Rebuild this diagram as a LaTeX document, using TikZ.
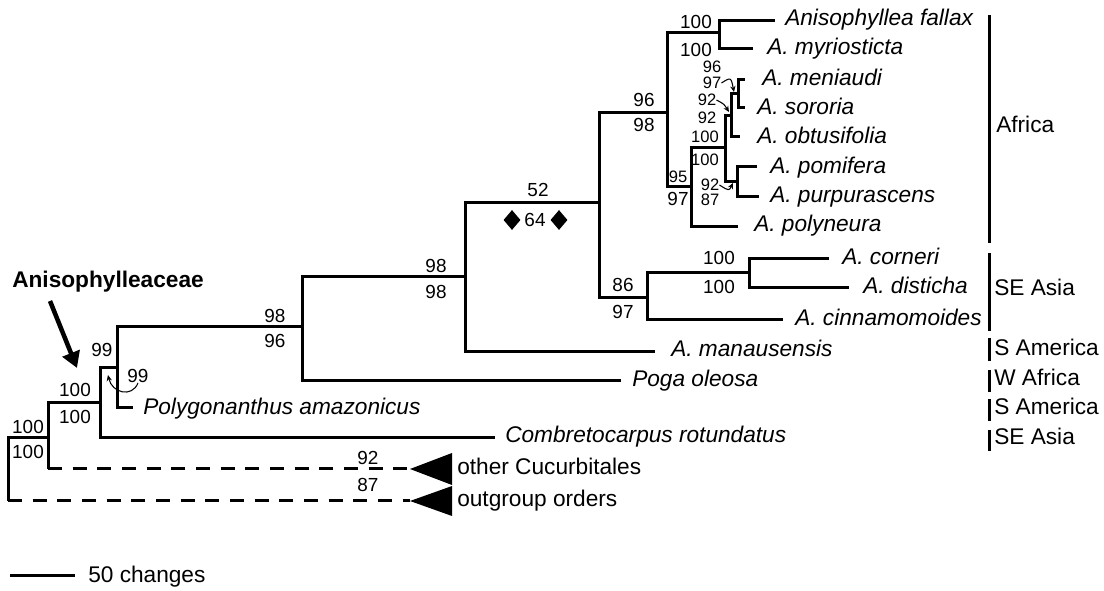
\documentclass[tikz,border=0pt]{standalone}
\usepackage{fontspec}
\setmainfont{Liberation Sans}
\usetikzlibrary{arrows.meta,shapes.geometric}
\begin{document}
\begin{tikzpicture}[x=0.75pt,y=-0.75pt,
  br/.style={line width=2.25pt,line join=miter},
  dsh/.style={line width=2.25pt,dash pattern=on 10.5pt off 8pt},
  taxon/.style={anchor=mid west,inner sep=0pt,font=\fontsize{17}{19}\selectfont\itshape},
  region/.style={anchor=mid west,inner sep=0pt,font=\fontsize{17}{19}\selectfont},
  sup/.style={inner sep=0pt,font=\fontsize{14.2}{16}\selectfont},
  ssup/.style={inner sep=0pt,font=\fontsize{12.4}{14}\selectfont},
  regbar/.style={line width=2.25pt},
  tinyarrow/.style={line width=0.8pt,-{Stealth[length=4.5pt,width=4pt]}},
  bigarrow/.style={line width=3.4pt,-{Triangle[length=12pt,width=13.5pt]}},
  dia/.style={shape=diamond,fill=black,inner sep=0pt,minimum width=12.8pt,minimum height=15pt},
]
\useasboundingbox (0,0) rectangle (1104,591);

% ---------- internal nodes ----------
\coordinate (R)   at (8,470);
\coordinate (N1)  at (48,438);
\coordinate (N2)  at (100,403);
\coordinate (N3)  at (117,368);
\coordinate (N4)  at (302,327);
\coordinate (N5)  at (465,277);
\coordinate (N6)  at (599,203);
\coordinate (N7)  at (667,113);
\coordinate (N8)  at (647,298);
\coordinate (N9)  at (749,273);
\coordinate (N10) at (719,33);
\coordinate (N11) at (691,187);
\coordinate (N12) at (725,148);
\coordinate (N13) at (731,116);
\coordinate (N14) at (737,182);
\coordinate (N15) at (738,94);
% ---------- tip ends ----------
\coordinate (tOG)  at (410,501);
\coordinate (tCU)  at (410,469);
\coordinate (tCom) at (495,438);
\coordinate (tPol) at (133,408);
\coordinate (tPog) at (621,381);
\coordinate (tMan) at (655,352);
\coordinate (tCin) at (783,320);
\coordinate (tCor) at (829,259);
\coordinate (tDis) at (849,288);
\coordinate (tFal) at (775,21);
\coordinate (tMyr) at (753,49);
\coordinate (tPly) at (738,227);
\coordinate (tPom) at (757,167);
\coordinate (tPur) at (759,197);
\coordinate (tObt) at (740,137);
\coordinate (tMen) at (745,80);
\coordinate (tSor) at (745,108);

% ---------- branches ----------
\draw[br] (N1) -| (R) -- (R |- tOG);
\draw[dsh] (R |- tOG) -- (tOG);
\draw[br] (N2) -| (N1) -- (N1 |- tCU);
\draw[dsh] (N1 |- tCU) -- (tCU);
\draw[br] (N3) -| (N2) |- (tCom);
\draw[br] (N4) -| (N3) |- (tPol);
\draw[br] (N5) -| (N4) |- (tPog);
\draw[br] (N6) -| (N5) |- (tMan);
\draw[br] (N7) -| (N6) |- (N8);
\draw[br] (N9) -| (N8) |- (tCin);
\draw[br] (tCor) -| (N9) |- (tDis);
\draw[br] (N10) -| (N7) |- (N11);
\draw[br] (tFal) -| (N10) |- (tMyr);
\draw[br] (N12) -| (N11) |- (tPly);
\draw[br] (N13) -| (N12) |- (N14);
\draw[br] (tPom) -| (N14) |- (tPur);
\draw[br] (N15) -| (N13) |- (tObt);
\draw[br] (tMen) -| (N15) |- (tSor);

% collapsed clades
\fill (tCU) -- ++(42,-16) -- ++(0,32) -- cycle;
\fill (tOG) -- ++(42,-15) -- ++(0,30) -- cycle;

% ---------- taxon labels ----------
\node[taxon] (lFal) at (785,22)  {Anisophyllea fallax};
\node[taxon] (lMyr) at (767,51)  {A. myriosticta};
\node[taxon] (lMen) at (762,82)  {A. meniaudi};
\node[taxon] (lSor) at (757,111) {A. sororia};
\node[taxon] (lObt) at (757,140) {A. obtusifolia};
\node[taxon] (lPom) at (770,170) {A. pomifera};
\node[taxon] (lPur) at (770,199) {A. purpurascens};
\node[taxon] (lPly) at (754,228) {A. polyneura};
\node[taxon] (lCor) at (842,261) {A. corneri};
\node[taxon] (lDis) at (863,290) {A. disticha};
\node[taxon] (lCin) at (795,322) {A. cinnamomoides};
\node[taxon] (lMan) at (671,353) {A. manausensis};
\node[taxon] (lPog) at (632,383) {Poga oleosa};
\node[taxon] (lPol) at (143,411) {Polygonanthus amazonicus};
\node[taxon] (lCom) at (505,439) {Combretocarpus rotundatus};
\node[region] (lCU) at (457,471) {other Cucurbitales};
\node[region] (lOG) at (457,503) {outgroup orders};

% ---------- regions ----------
\draw[regbar] (989,15) -- (989,243);
\node[region] (rAf) at (996,129) {Africa};
\draw[regbar] (989,253) -- (989,331);
\node[region] (rSE1) at (994,292) {SE Asia};
\draw[regbar] (989,338) -- (989,361);
\node[region] (rSA1) at (994,352) {S America};
\draw[regbar] (989,370) -- (989,392);
\node[region] (rWA) at (994,382) {W Africa};
\draw[regbar] (989,399) -- (989,421);
\node[region] (rSA2) at (994,411) {S America};
\draw[regbar] (989,430) -- (989,451);
\node[region] (rSE2) at (994,441) {SE Asia};

% ---------- support values ----------
\node[sup] (s1) at (28,427) {100};
\node[sup] (s2) at (28,452) {100};
\node[sup] (s3) at (75,390) {100};
\node[sup] (s4) at (75,417) {100};
\node[sup] (s5) at (102,350) {99};
\node[sup] (s6) at (138,376) {99};
\node[sup] (s7) at (275,316) {98};
\node[sup] (s8) at (275,341) {96};
\node[sup] (s9) at (436,266) {98};
\node[sup] (s10) at (436,292) {98};
\node[sup] (s11) at (538,190) {52};
\node[sup] (s12) at (535,220) {64};
\node[dia] (d1) at (512,220) {};
\node[dia] (d2) at (559,220) {};
\node[sup] (s13) at (623,285) {86};
\node[sup] (s14) at (623,312) {97};
\node[sup] (s15) at (719,258) {100};
\node[sup] (s16) at (719,287) {100};
\node[sup] (s17) at (644,100) {96};
\node[sup] (s18) at (644,125) {98};
\node[sup] (s19) at (696,22) {100};
\node[sup] (s20) at (696,50) {100};
\node[ssup] (s21) at (678,177) {95};
\node[sup] (s22) at (678,199) {97};
\node[ssup] (s23) at (712,67) {96};
\node[ssup] (s24) at (712,83) {97};
\node[ssup] (s25) at (707,100) {92};
\node[ssup] (s26) at (707,118) {92};
\node[ssup] (s27) at (705,137) {100};
\node[ssup] (s28) at (705,160) {100};
\node[ssup] (s29) at (710,185) {92};
\node[ssup] (s30) at (710,200) {87};
\node[sup] (s31) at (368,458) {92};
\node[sup] (s32) at (368,485) {87};

% small pointer arrows
\coordinate (a1) at (734,92);
\coordinate (a2) at (729,112);
\coordinate (a3) at (733,183);
\coordinate (a4) at (108,375);
\draw[tinyarrow] (s24.east) .. controls (731,77) .. (a1);
\draw[tinyarrow] (s25.east) .. controls (724,104) .. (a2);
\draw[tinyarrow] (s29.east) .. controls (729,191) .. (a3);
\draw[tinyarrow] (s6.south) .. controls (132,398) and (112,393) .. (a4);

% family label
\node[anchor=mid west,inner sep=0pt,font=\fontsize{17}{19}\selectfont\bfseries] (fam) at (12,284) {Anisophylleaceae};
\coordinate (famtail) at (50,301);
\coordinate (famtip) at (77,368);
\draw[bigarrow] (famtail) -- (famtip);

% scale bar
\coordinate (sb1) at (10,576);
\coordinate (sb2) at (75,576);
\draw[br] (sb1) -- (sb2);
\node[region] (sbl) at (88,579) {50 changes};
\end{tikzpicture}
\end{document}
